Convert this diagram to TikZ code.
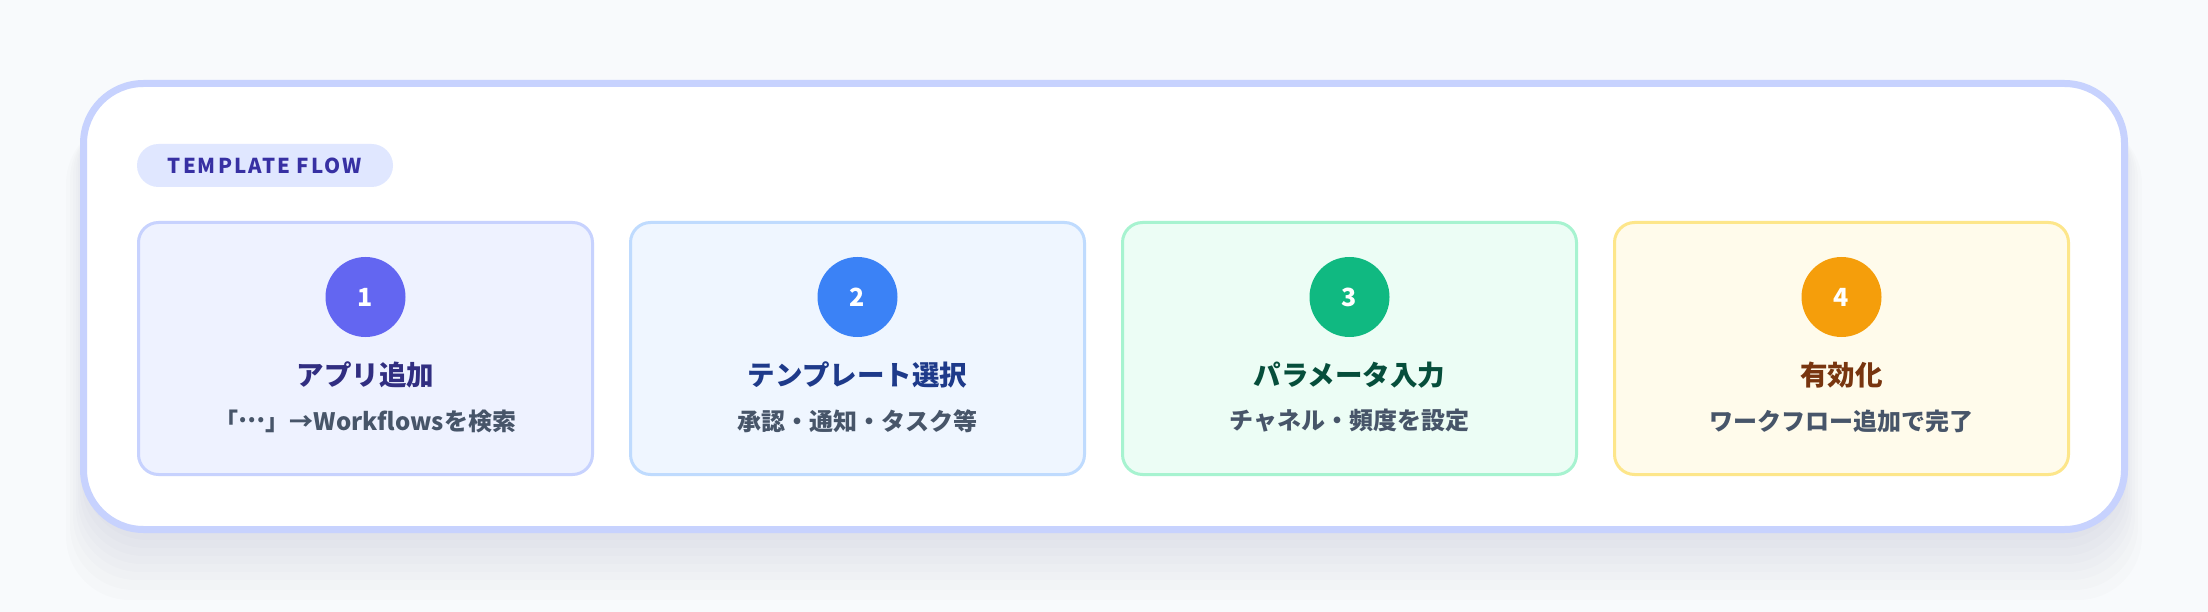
\documentclass[tikz,border=0pt]{standalone}
\usepackage{fontspec}
\setmainfont{Noto Sans CJK JP}
\newfontfamily\badgefont{Noto Sans CJK JP}[LetterSpace=10]
\usepackage{xcolor}
\usetikzlibrary{positioning}
\definecolor{bgc}{HTML}{F8FAFC}
\definecolor{frame}{HTML}{C7D2FE}
\definecolor{badgebg}{HTML}{E0E7FF}
\definecolor{badgetx}{HTML}{3730A3}
\definecolor{subtx}{HTML}{475569}
\definecolor{fillA}{HTML}{EEF2FF}
\definecolor{lineA}{HTML}{C7D2FE}
\definecolor{dotA}{HTML}{6366F1}
\definecolor{headA}{HTML}{312E81}
\definecolor{fillB}{HTML}{EFF6FF}
\definecolor{lineB}{HTML}{BFDBFE}
\definecolor{dotB}{HTML}{3B82F6}
\definecolor{headB}{HTML}{1E3A8A}
\definecolor{fillC}{HTML}{ECFDF5}
\definecolor{lineC}{HTML}{A7F3D0}
\definecolor{dotC}{HTML}{10B981}
\definecolor{headC}{HTML}{064E3B}
\definecolor{fillD}{HTML}{FFFBEB}
\definecolor{lineD}{HTML}{FDE68A}
\definecolor{dotD}{HTML}{F59E0B}
\definecolor{headD}{HTML}{78350F}
\tikzset{
  panel/.style={draw=frame, fill=white, line width=7pt, rounded corners=60pt},
  haze/.style={fill=black!70!blue, opacity=0.012, rounded corners=64pt},
  badge/.style={fill=badgebg, rounded corners=21.5pt, minimum width=256pt, minimum height=43pt,
    text=badgetx, font=\badgefont\bfseries\fontsize{20.5}{23}\selectfont},
  card/.style={line width=3pt, rounded corners=20pt, minimum width=454pt, minimum height=252pt},
  num/.style={circle, minimum size=80pt, inner sep=0pt, text=white, font=\bfseries\fontsize{25}{30}\selectfont},
  head/.style={font=\bfseries\fontsize{27.5}{32}\selectfont},
  sub/.style={text=subtx, font=\bfseries\fontsize{24}{29}\selectfont},
}
\begin{document}
\begin{tikzpicture}[x=1pt, y=-1pt]
  \fill[bgc] (0,0) rectangle (2208,612);
  \useasboundingbox (0,0) rectangle (2208,612);

  % soft shadow under the panel
  \fill[haze] (84,92) rectangle (2124,540);
  \fill[haze] (82,96) rectangle (2126,548);
  \fill[haze] (80,100) rectangle (2128,556);
  \fill[haze] (78,104) rectangle (2130,564);
  \fill[haze] (76,108) rectangle (2132,572);
  \fill[haze] (73,112) rectangle (2135,580);
  \fill[haze] (70,116) rectangle (2138,590);
  \fill[haze] (66,120) rectangle (2142,600);

  \draw[panel] (83.5,83.5) rectangle (2124.5,529.5);

  \node[badge] (tag) at (265,165.5) {TEMPLATE FLOW};

  \node[card, fill=fillA, draw=lineA] (card1) at (365.5,348.5) {};
  \node[card, fill=fillB, draw=lineB, right=35pt of card1] (card2) {};
  \node[card, fill=fillC, draw=lineC, right=35pt of card2] (card3) {};
  \node[card, fill=fillD, draw=lineD, right=35pt of card3] (card4) {};

  \node[num, fill=dotA] (num1) at ([yshift=-76pt]card1.north) {1};
  \node[head, text=headA] (head1) at ([yshift=-154pt]card1.north) {アプリ追加};
  \node[sub] (sub1) at ([yshift=-200pt]card1.north) {「\raisebox{0.3em}{…}」→Workflowsを検索};

  \node[num, fill=dotB] (num2) at ([yshift=-76pt]card2.north) {2};
  \node[head, text=headB] (head2) at ([yshift=-154pt]card2.north) {テンプレート選択};
  \node[sub] (sub2) at ([yshift=-200pt]card2.north) {承認・通知・タスク等};

  \node[num, fill=dotC] (num3) at ([yshift=-76pt]card3.north) {3};
  \node[head, text=headC] (head3) at ([yshift=-154pt]card3.north) {パラメータ入力};
  \node[sub] (sub3) at ([yshift=-200pt]card3.north) {チャネル・頻度を設定};

  \node[num, fill=dotD] (num4) at ([yshift=-76pt]card4.north) {4};
  \node[head, text=headD] (head4) at ([yshift=-154pt]card4.north) {有効化};
  \node[sub] (sub4) at ([yshift=-200pt]card4.north) {ワークフロー追加で完了};
\end{tikzpicture}
\end{document}
